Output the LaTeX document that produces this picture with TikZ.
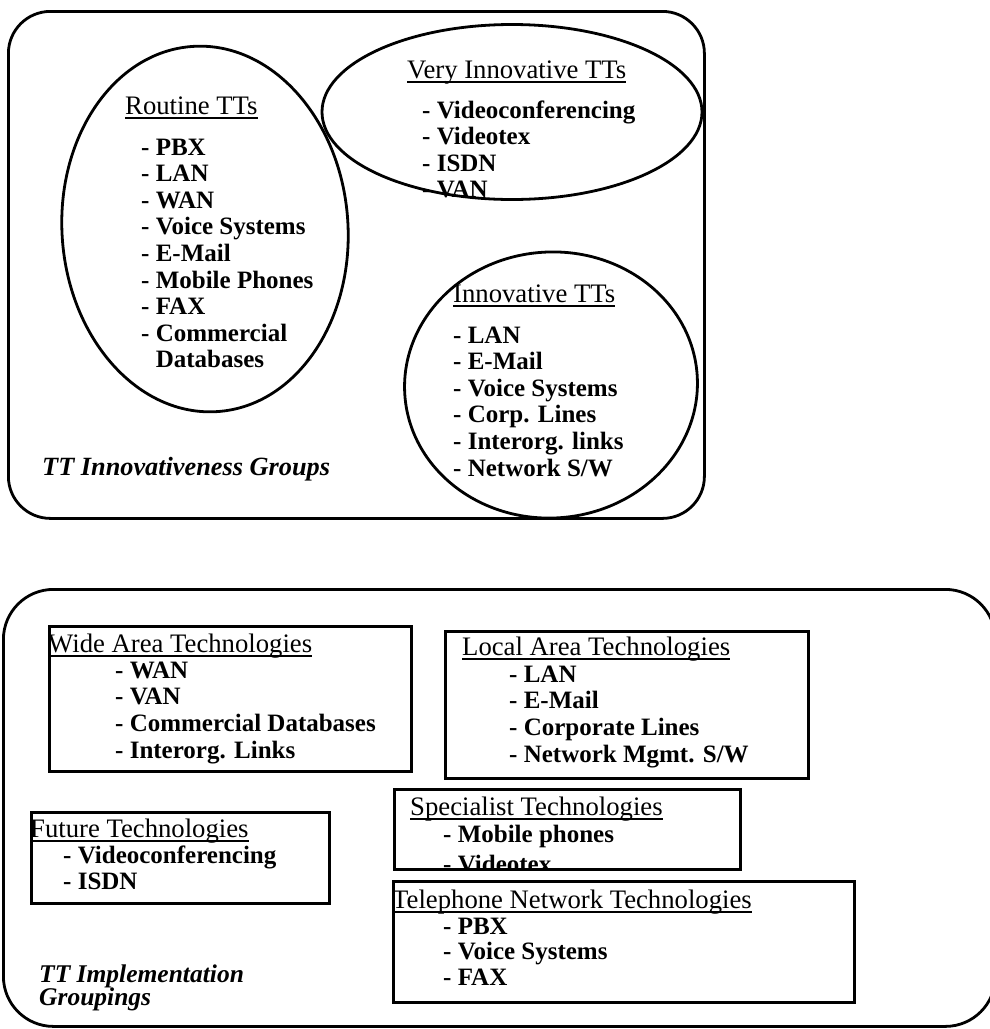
\documentclass[tikz,border=0pt]{standalone}
\usepackage{fontspec}
\setmainfont{Liberation Serif}
\usetikzlibrary{shapes.geometric}
\newcommand{\myul}[1]{\setbox0=\hbox{#1}\rlap{\rule[-4.5pt]{\wd0}{1.8pt}}\box0}
\begin{document}
\begin{tikzpicture}[x=1pt,y=-1pt,
  outl/.style={draw, line width=2.8pt, inner sep=0pt},
  grpbox/.style={outl, anchor=north west},
  ell/.style={outl, ellipse},
  techbox/.style={draw, line width=2.6pt, inner sep=0pt, anchor=north west},
  ttl/.style={anchor=base west, inner sep=0pt, font=\fontsize{26.7}{28}\selectfont},
  itm/.style={anchor=base west, inner sep=0pt, font=\fontsize{25}{27}\selectfont\bfseries},
  grp/.style={anchor=base west, inner sep=0pt, font=\fontsize{26.3}{28}\selectfont\bfseries\itshape}]
\useasboundingbox (0,0) rectangle (990,1029);

% ---------- top group ----------
\node[grpbox, rounded corners=42pt, minimum width=696pt, minimum height=507pt] (topGroup) at (7,10) {};
\node[ell, minimum width=286pt, minimum height=366pt, rotate=4] (routine) at (205,229) {};
\node[ell, minimum width=380pt, minimum height=175pt] (veryInno) at (512,112) {};
\node[ell, minimum width=293pt, minimum height=266pt, rotate=4] (inno) at (551,385) {};

\node[ttl] (routineT) at (125,114) {\myul{Routine TTs}};
\foreach \t [count=\i from 0] in {- PBX, - LAN, - WAN, - Voice Systems, - E-Mail, - Mobile Phones, - FAX, - Commercial, \phantom{- }Databases}
  \node[itm] (rt\i) at (141,{155+26.6*\i}) {\t};

\node[ttl] (veryT) at (407,78) {\myul{Very Innovative TTs}};
\foreach \t [count=\i from 0] in {- Videoconferencing, - Videotex, - ISDN, - VAN}
  \node[itm] (vt\i) at (422,{118+26.6*\i}) {\t};

\node[ttl] (innoT) at (453,302) {\myul{Innovative TTs}};
\foreach \t [count=\i from 0] in {- LAN, - E-Mail, - Voice Systems, - Corp. Lines, - Interorg. links, - Network S/W}
  \node[itm] (it\i) at (453,{343+26.6*\i}) {\t};

\node[grp] (innoLabel) at (42,475) {TT Innovativeness Groups};

% ---------- bottom group ----------
\node[grpbox, rounded corners=50pt, minimum width=992pt, minimum height=437pt] (botGroup) at (2,588) {};

\node[ttl] (wideT) at (48,652) {\myul{Wide Area Technologies}};
\foreach \t [count=\i from 0] in {- WAN, - VAN, - Commercial Databases, - Interorg. Links}
  \node[itm] (wt\i) at (115,{678+26.7*\i}) {\t};

\node[ttl] (localT) at (462,655) {\myul{Local Area Technologies}};
\foreach \t [count=\i from 0] in {- LAN, - E-Mail, - Corporate Lines, - Network Mgmt. S/W}
  \node[itm] (lt\i) at (509,{682+26.7*\i}) {\t};

\node[ttl] (futT) at (30,837) {\myul{Future Technologies}};
\foreach \t [count=\i from 0] in {- Videoconferencing, - ISDN}
  \node[itm] (ft\i) at (63,{863+26*\i}) {\t};

\node[ttl] (specT) at (410,815) {\myul{Specialist Technologies}};
\node[itm] (st0) at (443,842) {- Mobile phones};
\begin{scope}
  \clip (393,788) rectangle (739,868);
  \node[itm] (st1) at (443,872) {- Videotex};
\end{scope}

\node[ttl] (telT) at (392,908) {\myul{Telephone Network Technologies}};
\foreach \t [count=\i from 0] in {- PBX, - Voice Systems, - FAX}
  \node[itm] (tt\i) at (443,{934+25.6*\i}) {\t};

\node[grp, font=\fontsize{25.5}{27}\selectfont\bfseries\itshape] (implLabel1) at (39,982) {TT Implementation};
\node[grp, font=\fontsize{25.5}{27}\selectfont\bfseries\itshape] (implLabel2) at (39,1005) {Groupings};

% boxes drawn last (over the text)
\node[techbox, minimum width=362pt, minimum height=145pt] (wideBox) at (48,625) {};
\node[techbox, minimum width=363pt, minimum height=147pt] (localBox) at (444,630) {};
\node[techbox, minimum width=298pt, minimum height=91pt] (futBox) at (30,811) {};
\node[techbox, minimum width=346pt, minimum height=80pt] (specBox) at (393,788) {};
\node[techbox, minimum width=461pt, minimum height=121pt] (telBox) at (392,880) {};
\end{tikzpicture}
\end{document}
